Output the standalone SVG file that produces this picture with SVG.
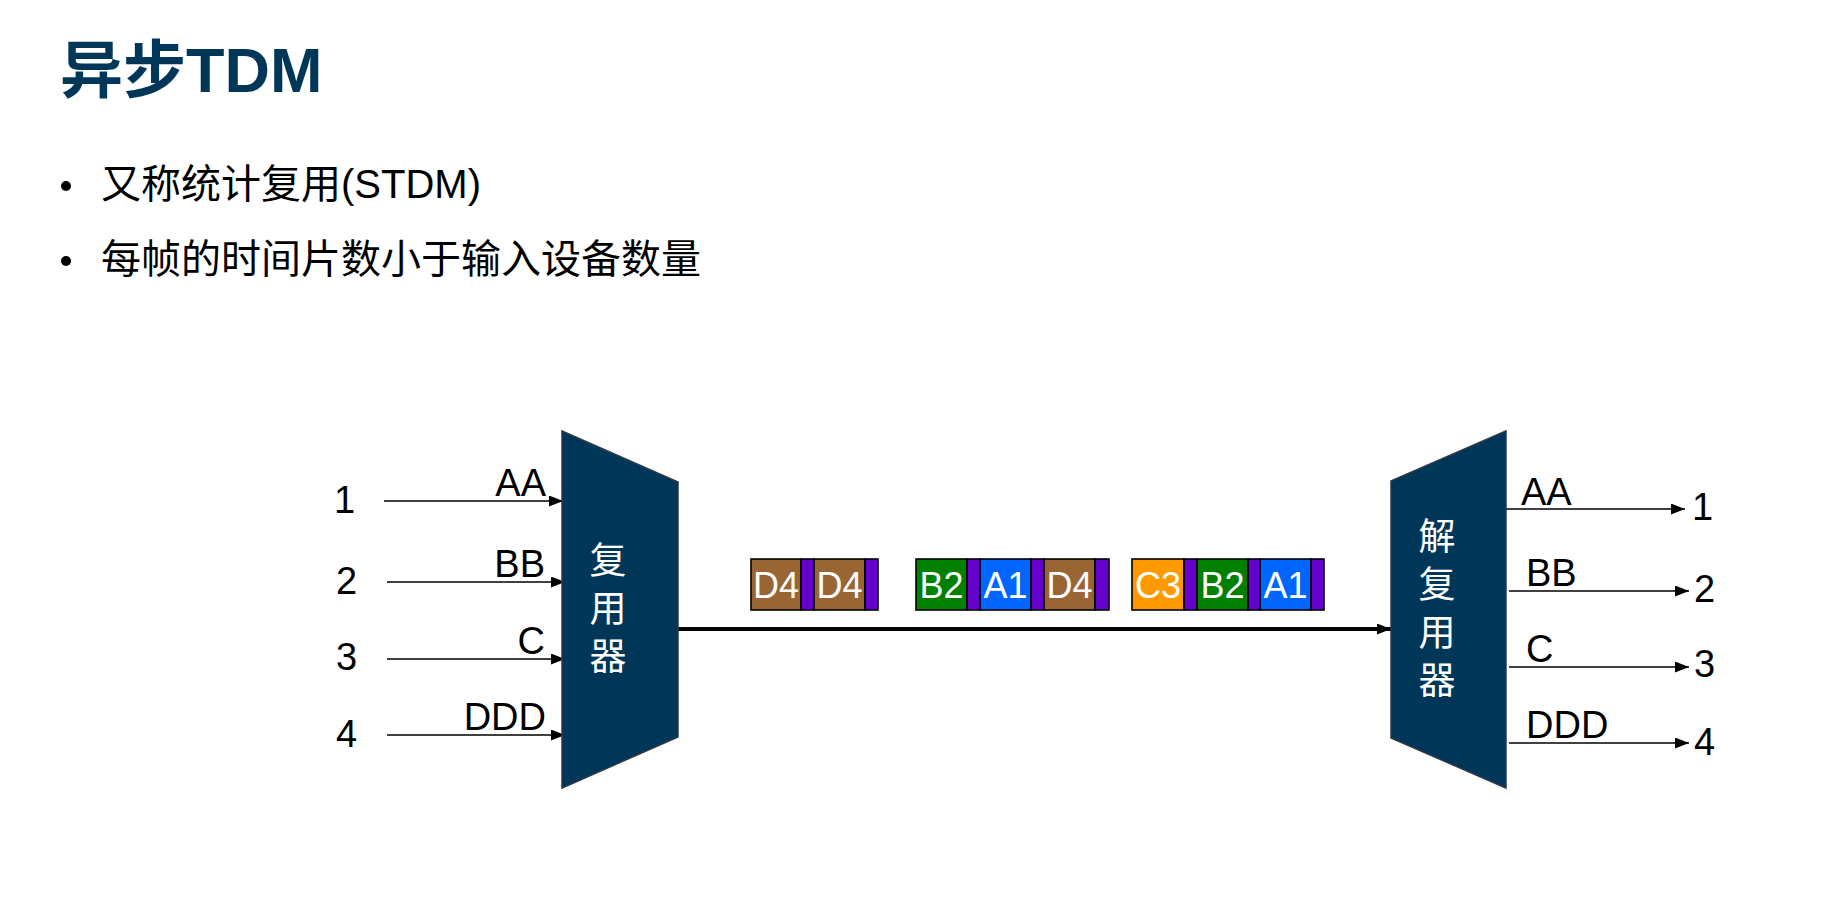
<svg xmlns="http://www.w3.org/2000/svg" width="1826" height="902" viewBox="0 0 1826 902">
<defs>
<style>
.title{font-family:"Liberation Sans","Noto Sans CJK SC",sans-serif;font-weight:bold;font-size:63px;fill:#003658;}
.bul{font-family:"Liberation Sans","Noto Sans CJK SC",sans-serif;font-size:40px;fill:#000;}
.num{font-family:"Liberation Sans",sans-serif;font-size:38px;fill:#000;}
.lab{font-family:"Liberation Sans",sans-serif;font-size:38px;fill:#000;}
.dev{fill:#003658;stroke:#2b3a48;stroke-width:1.5;}
.devt{font-family:"Noto Sans CJK SC",sans-serif;font-size:37px;fill:#fff;writing-mode:vertical-rl;letter-spacing:11px;}
.ln{stroke:#000;stroke-width:1.6;fill:none;}
.main{stroke:#000;stroke-width:4;fill:none;}
.cell{stroke:#000;stroke-width:1.6;}
.ct{font-family:"Liberation Sans",sans-serif;font-size:36px;fill:#fff;text-anchor:middle;}
.br{fill:#9a6534;}.pu{fill:#6600cc;}.gr{fill:#008000;}.bl{fill:#0066ff;}.or{fill:#ff9900;}
</style>
<marker id="ahs" viewBox="0 0 10 10" refX="10" refY="5" markerWidth="14" markerHeight="11" markerUnits="userSpaceOnUse" orient="auto" preserveAspectRatio="none">
<path d="M0,0 L10,5 L0,10 Z" fill="#000"/>
</marker>
</defs>
<rect width="1826" height="902" fill="#fff"/>

<g id="title">
<text class="title" x="60" y="92">异步TDM</text>
</g>
<g id="bullets">
<circle cx="66" cy="186" r="5" fill="#000"/>
<text class="bul" x="101" y="198">又称统计复用(STDM)</text>
<circle cx="66" cy="261" r="5" fill="#000"/>
<text class="bul" x="101" y="273">每帧的时间片数小于输入设备数量</text>
</g>

<g id="connectors">
<line class="ln" x1="384" y1="501" x2="563" y2="501" marker-end="url(#ahs)"/>
<line class="ln" x1="387" y1="582" x2="565" y2="582" marker-end="url(#ahs)"/>
<line class="ln" x1="387" y1="659" x2="565" y2="659" marker-end="url(#ahs)"/>
<line class="ln" x1="387" y1="735" x2="565" y2="735" marker-end="url(#ahs)"/>
<line class="main" x1="678" y1="629" x2="1391" y2="629" marker-end="url(#ahs)"/>
<line class="ln" x1="1506" y1="509" x2="1685" y2="509" marker-end="url(#ahs)"/>
<line class="ln" x1="1509" y1="591" x2="1689" y2="591" marker-end="url(#ahs)"/>
<line class="ln" x1="1509" y1="667" x2="1689" y2="667" marker-end="url(#ahs)"/>
<line class="ln" x1="1509" y1="743" x2="1689" y2="743" marker-end="url(#ahs)"/>
</g>

<g id="input-labels">
<text class="num" x="334" y="513">1</text>
<text class="num" x="336" y="594">2</text>
<text class="num" x="336" y="670">3</text>
<text class="num" x="336" y="747">4</text>
<text class="lab" x="546" y="496" text-anchor="end">AA</text>
<text class="lab" x="545" y="577" text-anchor="end">BB</text>
<text class="lab" x="545" y="654" text-anchor="end">C</text>
<text class="lab" x="546" y="730" text-anchor="end">DDD</text>
</g>

<g id="mux">
<polygon class="dev" points="562,431 678,482 678,737 562,788"/>
<text class="devt" x="608" y="541">复用器</text>
</g>

<g id="demux">
<polygon class="dev" points="1391,481 1506,431 1506,788 1391,738"/>
<text class="devt" x="1437" y="517">解复用器</text>
</g>

<g id="output-labels">
<text class="lab" x="1521" y="505">AA</text>
<text class="lab" x="1526" y="586">BB</text>
<text class="lab" x="1526" y="662">C</text>
<text class="lab" x="1526" y="738">DDD</text>
<text class="num" x="1692" y="520">1</text>
<text class="num" x="1694" y="602">2</text>
<text class="num" x="1694" y="677">3</text>
<text class="num" x="1694" y="755">4</text>
</g>

<g id="frame1">
<rect class="cell br" x="751" y="559" width="50" height="51"/>
<rect class="cell pu" x="801" y="559" width="13" height="51"/>
<rect class="cell br" x="814" y="559" width="51" height="51"/>
<rect class="cell pu" x="865" y="559" width="13" height="51"/>
<text class="ct" x="776" y="598">D4</text>
<text class="ct" x="839.5" y="598">D4</text>
</g>

<g id="frame2">
<rect class="cell gr" x="916" y="559" width="51" height="51"/>
<rect class="cell pu" x="967" y="559" width="13" height="51"/>
<rect class="cell bl" x="980" y="559" width="51" height="51"/>
<rect class="cell pu" x="1031" y="559" width="13" height="51"/>
<rect class="cell br" x="1044" y="559" width="51" height="51"/>
<rect class="cell pu" x="1095" y="559" width="14" height="51"/>
<text class="ct" x="941.5" y="598">B2</text>
<text class="ct" x="1005.5" y="598">A1</text>
<text class="ct" x="1069.5" y="598">D4</text>
</g>

<g id="frame3">
<rect class="cell or" x="1132" y="559" width="52" height="51"/>
<rect class="cell pu" x="1184" y="559" width="13" height="51"/>
<rect class="cell gr" x="1197" y="559" width="51" height="51"/>
<rect class="cell pu" x="1248" y="559" width="12" height="51"/>
<rect class="cell bl" x="1260" y="559" width="51" height="51"/>
<rect class="cell pu" x="1311" y="559" width="13" height="51"/>
<text class="ct" x="1158" y="598">C3</text>
<text class="ct" x="1222.5" y="598">B2</text>
<text class="ct" x="1285.5" y="598">A1</text>
</g>
</svg>
